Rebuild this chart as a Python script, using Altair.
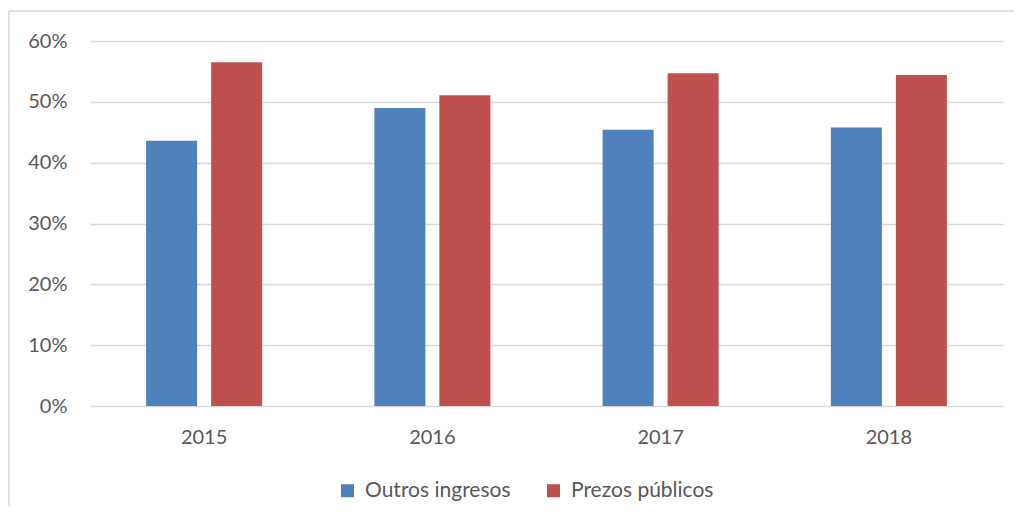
import altair as alt
import pandas as pd

years = ["2015", "2016", "2017", "2018"]
outros = [0.436, 0.490, 0.454, 0.458]
prezos = [0.565, 0.511, 0.547, 0.544]
series = ["Outros ingresos", "Prezos públicos"]
colors = ["#4F81BD", "#C0504D"]

rows = []
for i, y in enumerate(years):
    rows.append({"year": y, "serie": series[0], "value": outros[i]})
    rows.append({"year": y, "serie": series[1], "value": prezos[i]})
df = pd.DataFrame(rows)

FONT = "Lato"
TXT = "#595959"
GRID = "#d9d9d9"

bars = alt.Chart(df).mark_bar().encode(
    x=alt.X(
        "year:N",
        sort=years,
        scale=alt.Scale(paddingInner=0, paddingOuter=0),
        axis=alt.Axis(
            title=None, labelAngle=0, ticks=False, domain=False,
            labelPadding=21, labelFontSize=20, labelColor=TXT, labelFont=FONT,
            grid=False,
        ),
    ),
    xOffset=alt.XOffset(
        "serie:N", sort=series,
        scale=alt.Scale(paddingInner=0.215, paddingOuter=0.863),
    ),
    y=alt.Y(
        "value:Q",
        scale=alt.Scale(domain=[0, 0.6], nice=False),
        axis=alt.Axis(
            title=None, format=".0%", values=[0, 0.1, 0.2, 0.3, 0.4, 0.5, 0.6],
            ticks=False, domain=False, labelPadding=23, labelFontSize=20,
            labelColor=TXT, labelFont=FONT, grid=True, gridColor=GRID,
            gridWidth=1.4,
        ),
    ),
    color=alt.Color(
        "serie:N",
        scale=alt.Scale(domain=series, range=colors),
        legend=alt.Legend(
            title=None, orient="none", direction="horizontal",
            legendX=247, legendY=439, symbolType="square", symbolSize=170,
            symbolStrokeWidth=0, labelFontSize=21, labelColor=TXT,
            labelFont=FONT, labelOffset=7, columnPadding=32,
        ),
    ),
)

frame_df = pd.DataFrame({"a": [0]})
left_line = alt.Chart(frame_df).mark_rule(color=GRID, strokeWidth=1.5).encode(
    x=alt.value(-81), y=alt.value(-30), y2=alt.value(480)
)
top_line = alt.Chart(frame_df).mark_rule(color=GRID, strokeWidth=1.5).encode(
    x=alt.value(-81), x2=alt.value(932), y=alt.value(-30)
)

chart = alt.layer(left_line, top_line, bars).properties(
    width=913, height=365,
    autosize=alt.AutoSizeParams(type="none"),
    padding={"left": 82, "top": 33, "right": 11, "bottom": 100},
).configure_view(stroke=None)

chart.save("out.html", embed_options={"renderer": "svg", "actions": False})
